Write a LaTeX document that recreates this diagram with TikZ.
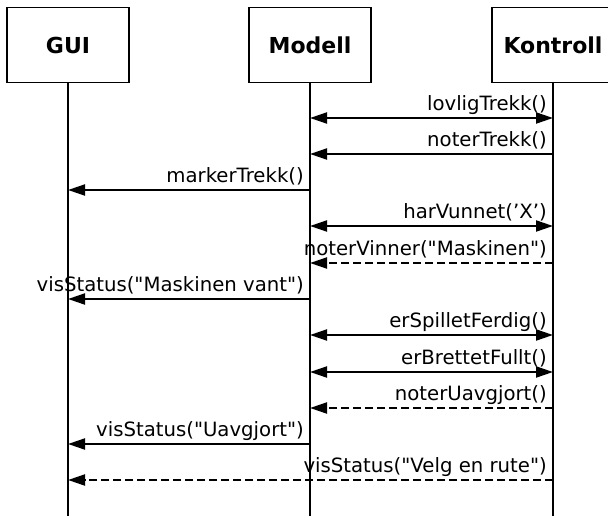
\documentclass[tikz,border=0pt]{standalone}
\usepackage{fontspec}
\newfontfamily\dvs{DejaVu Sans}
\usetikzlibrary{arrows.meta}
\begin{document}
\begin{tikzpicture}[x=1pt,y=-1pt,
  actor/.style={draw,line width=1.5pt,minimum width=122pt,minimum height=75pt,inner sep=0pt,
    font=\dvs\bfseries\fontsize{22}{26}\selectfont},
  life/.style={line width=1.5pt},
  msg/.style={line width=2pt,-{Triangle[length=17pt,width=11pt]}},
  both/.style={line width=2pt,{Triangle[length=17pt,width=11pt]}-{Triangle[length=17pt,width=11pt]}},
  ret/.style={msg,dash pattern=on 8pt off 4pt},
  lbl/.style={anchor=base east,inner sep=0pt,font=\dvs\fontsize{19.7}{23}\selectfont}]
\useasboundingbox (0,0) rectangle (608,516);
\clip (0,0) rectangle (608,516);
\node[actor] (gui) at (68,45) {GUI};
\node[actor] (mod) at (310,45) {Modell};
\node[actor] (kon) at (553,45) {Kontroll};
\coordinate (bot) at (0,516);
\foreach \a in {gui,mod,kon}{
  \draw[life] (\a.south) -- (\a.south |- bot);
}
\foreach \i/\y/\f/\t/\s/\txt in {
  1/118/kon/mod/both/{lovligTrekk()},
  2/154/kon/mod/msg/{noterTrekk()},
  3/190/mod/gui/msg/{markerTrekk()},
  4/226/kon/mod/both/{harVunnet(’X’)},
  5/263/kon/mod/ret/{noterVinner("Maskinen")},
  6/299/mod/gui/msg/{visStatus("Maskinen vant")},
  7/335/kon/mod/both/{erSpilletFerdig()},
  8/372/kon/mod/both/{erBrettetFullt()},
  9/408/kon/mod/ret/{noterUavgjort()},
  10/444/mod/gui/msg/{visStatus("Uavgjort")},
  11/480/kon/gui/ret/{visStatus("Velg en rute")}}{
  \coordinate (r\i) at (0,\y);
  \coordinate (s\i) at (\f.south |- r\i);
  \coordinate (e\i) at (\t.south |- r\i);
  \draw[\s] (s\i) -- (e\i);
  \node[lbl] (l\i) at ([xshift=-6pt,yshift=7.5pt]s\i) {\txt};
}
\end{tikzpicture}
\end{document}
